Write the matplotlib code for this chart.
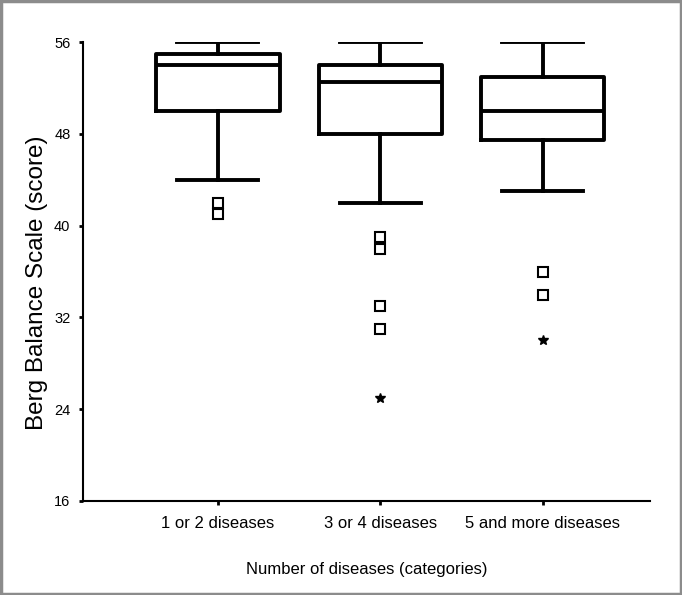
import matplotlib
matplotlib.use("Agg")
import matplotlib.pyplot as plt
from matplotlib.patches import Rectangle

plt.rcParams['font.family'] = ['Liberation Sans', 'DejaVu Sans']

categories = ["1 or 2 diseases", "3 or 4 diseases", "5 and more diseases"]
whisker_low = [44, 42, 43]
q1 = [50, 48, 47.5]
median = [54, 52.5, 50]
q3 = [55, 54, 53]
whisker_high = [56, 56, 56]
outliers = [[42, 41], [39, 38, 33, 31], [36, 34]]
extremes = [[], [25], [30]]
y_ticks = [16, 24, 32, 40, 48, 56]

fig = plt.figure(figsize=(6.82, 5.95), dpi=100)
ax = fig.add_axes([0.1217, 0.158, 0.953 - 0.1217, 0.929 - 0.158])

stats = []
for i, c in enumerate(categories):
    stats.append(dict(label=c, whislo=whisker_low[i], q1=q1[i], med=median[i],
                      q3=q3[i], whishi=whisker_high[i], fliers=outliers[i]))

positions = [1, 2, 3]
ax.bxp(stats, positions=positions, widths=0.76, showfliers=True,
       boxprops=dict(color='black', linewidth=2.8),
       medianprops=dict(color='black', linewidth=2.8),
       whiskerprops=dict(color='black', linewidth=2.8),
       capprops=dict(color='black', linewidth=2.8),
       capwidths=0.5,
       flierprops=dict(marker='s', markersize=7, markerfacecolor='white',
                       markeredgecolor='black', markeredgewidth=1.5, linestyle='none'))

for p, ex in zip(positions, extremes):
    if ex:
        ax.plot([p] * len(ex), ex, linestyle='none', marker='*', markersize=7,
                color='black')

ax.set_xlim(0.17, 3.66)
ax.set_ylim(16, 56)
ax.set_yticks(y_ticks)
ax.set_yticklabels([str(t) for t in y_ticks], fontsize=10.5)
ax.set_xticks(positions)
ax.set_xticklabels(categories, fontsize=12)
ax.tick_params(axis='both', direction='out', length=3, width=2)
ax.tick_params(axis='x', pad=8)
ax.tick_params(axis='y', pad=6)
for s in ['top', 'right']:
    ax.spines[s].set_visible(False)
for s in ['left', 'bottom']:
    ax.spines[s].set_linewidth(1.5)

ax.set_ylabel("Berg Balance Scale (score)", fontsize=17.5)
ax.yaxis.set_label_coords(-0.062, 0.475)
ax.set_xlabel("Number of diseases (categories)", fontsize=12, labelpad=22)

fig.patches.append(Rectangle((0.0015, 0.0015), 0.997, 0.997, transform=fig.transFigure,
                             fill=False, edgecolor='#8c8c8c', linewidth=2.5))

fig.savefig("out.png", dpi=100)
